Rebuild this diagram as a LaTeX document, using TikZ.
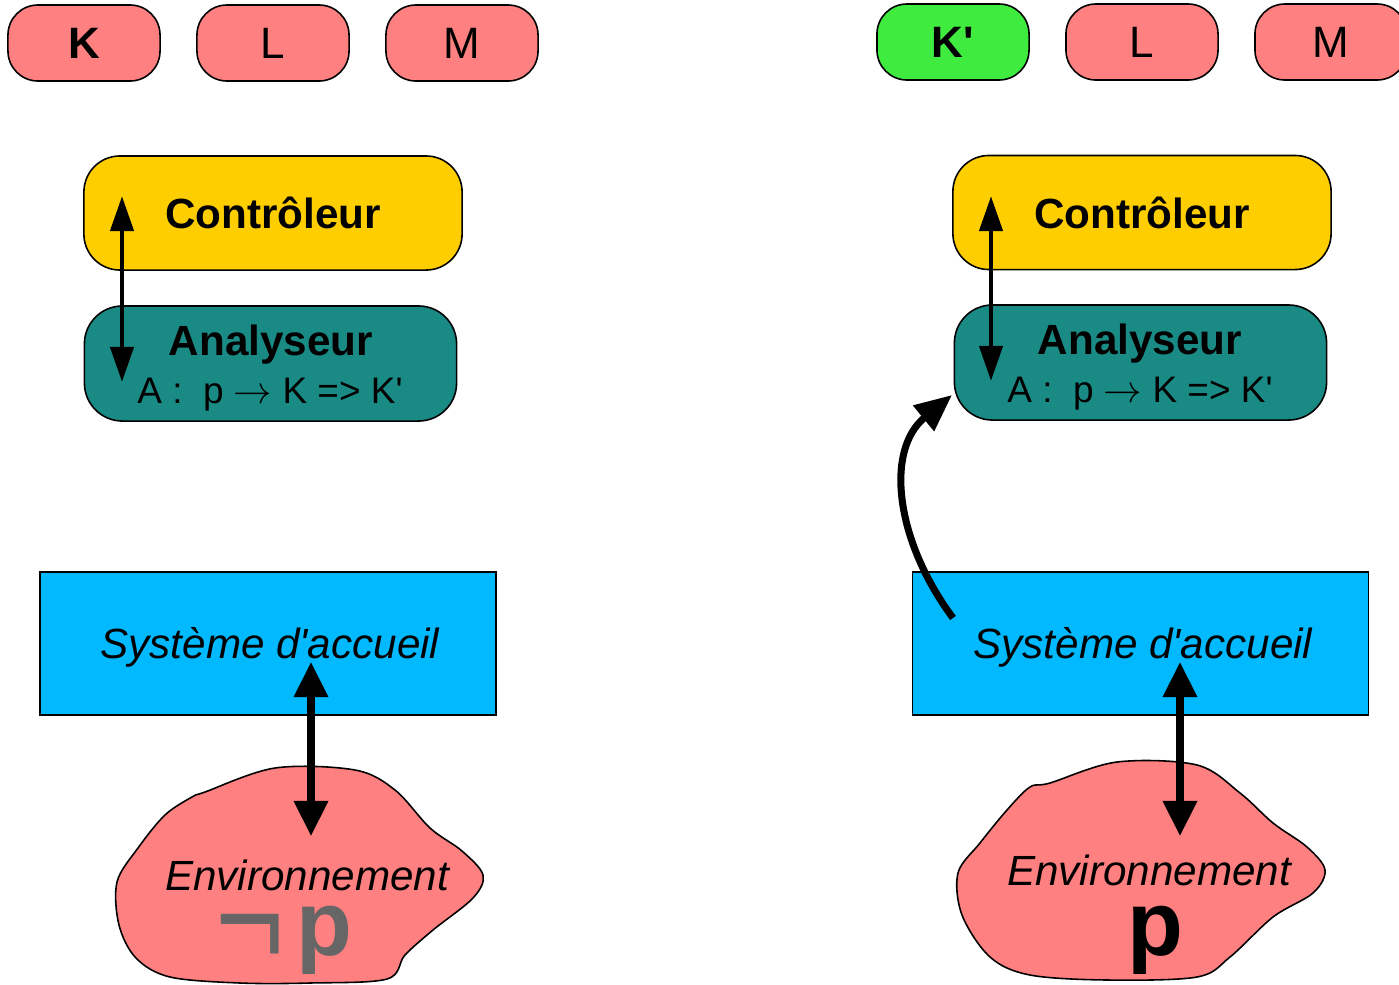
\documentclass[tikz,border=0pt]{standalone}
\usepackage{fontspec}
\setmainfont{Liberation Sans}[Ligatures=TeXOff]
\usetikzlibrary{arrows.meta}

\definecolor{pillred}{RGB}{255,128,128}
\definecolor{pillgreen}{RGB}{64,235,64}
\definecolor{ctrlyellow}{RGB}{255,206,0}
\definecolor{analteal}{RGB}{26,138,133}
\definecolor{hostblue}{RGB}{0,185,255}
\definecolor{neggrey}{RGB}{102,102,102}

\begin{document}
\begin{tikzpicture}[x=0.01cm,y=-0.01cm,
  outline/.style={draw=black,line width=0.45pt},
  pillbox/.style={outline,fill=pillred,minimum width=1.52cm,minimum height=0.76cm,
    rounded corners=0.3cm,inner sep=0pt,font=\fontsize{12.5}{14}\selectfont},
  ctrlbox/.style={outline,fill=ctrlyellow,minimum width=3.78cm,minimum height=1.14cm,
    rounded corners=0.36cm,inner sep=0pt},
  analbox/.style={outline,fill=analteal,minimum width=3.72cm,minimum height=1.15cm,
    rounded corners=0.38cm,inner sep=0pt},
  hostbox/.style={outline,fill=hostblue,minimum width=4.56cm,minimum height=1.43cm,inner sep=0pt},
  cloud/.style={outline,fill=pillred},
  bigtxt/.style={anchor=base,inner sep=0pt,font=\fontsize{12}{14}\selectfont\bfseries},
  rule/.style={anchor=base,inner sep=0pt,font=\fontsize{10.5}{12}\selectfont},
  itxt/.style={anchor=base,inner sep=0pt,font=\fontsize{12}{14}\selectfont\itshape},
  prop/.style={anchor=base,inner sep=0pt,font=\fontsize{26}{30}\selectfont\bfseries},
  thinlink/.style={line width=1.4pt,{Triangle[length=10pt,width=6.5pt]}-{Triangle[length=10pt,width=6.5pt]}},
  thicklink/.style={line width=2pt,{Triangle[length=10pt,width=9.4pt]}-{Triangle[length=10pt,width=9.4pt]}},
  bendlink/.style={line width=2pt,-{Triangle[length=10.5pt,width=9pt]}},
]
\useasboundingbox (0,0) rectangle (1399,984);

% ---------- left state ----------
\node[pillbox] (kL) at (84,43) {\bfseries K};
\node[pillbox] (lL) at (273,43) {L};
\node[pillbox] (mL) at (462,43) {M};

\node[ctrlbox] (ctrlL) at (273,213) {};
\node[bigtxt] (ctrlLt) at (273,228) {Contrôleur};
\node[analbox] (analL) at (270.5,363.5) {};
\node[bigtxt] (analLt) at (271,355) {Analyseur};
\node[rule] (ruleL) at (270,403) {A :\ \ p $\rightarrow$ K => K'};

\node[hostbox] (hostL) at (268,643.5) {};
\node[itxt] (hostLt) at (270,658) {Système d'accueil};

\draw[cloud] plot[smooth cycle,tension=0.55] coordinates {
  (205,792) (275,768) (355,770) (395,790) (430,828) (462,851) (483,875)
  (473,898) (433,930) (405,955) (387,979) (310,983) (240,983) (170,977)
  (136,958) (119,925) (117,882) (138,848) (165,815) (192,797)};
\node[itxt] (envLt) at (307,890) {Environnement};
\node[prop,text=neggrey] (negL) at (250,966) {\mdseries\scalebox{1.3}[1.55]{¬}};
\node[prop,text=neggrey] (propL) at (324,955) {p};

\coordinate (cL1) at (122,196);
\coordinate (cL2) at (122,382);
\draw[thinlink] (cL1) -- (cL2);
\coordinate (hL1) at (311,662);
\coordinate (eL1) at (311,836);
\draw[thicklink] (hL1) -- (eL1);

% ---------- right state ----------
\node[pillbox,fill=pillgreen] (kR) at (953,42) {\bfseries K'};
\node[pillbox] (lR) at (1142,42) {L};
\node[pillbox] (mR) at (1331,42) {M};

\node[ctrlbox] (ctrlR) at (1142,212.5) {};
\node[bigtxt] (ctrlRt) at (1142,228) {Contrôleur};
\node[analbox] (analR) at (1140.5,362.5) {};
\node[bigtxt] (analRt) at (1140,354) {Analyseur};
\node[rule] (ruleR) at (1140,402) {A :\ \ p $\rightarrow$ K => K'};

\node[hostbox] (hostR) at (1140.5,643.5) {};
\node[itxt] (hostRt) at (1143,658) {Système d'accueil};

\draw[cloud] plot[smooth cycle,tension=0.55] coordinates {
  (1030,787) (1050,783) (1117,762) (1197,765) (1240,793) (1273,823)
  (1307,847) (1325,870) (1313,893) (1273,917) (1230,957) (1197,977)
  (1107,980) (1030,975) (990,957) (962,915) (958,873) (980,843) (1007,810)};
\node[itxt] (envRt) at (1149,885) {Environnement};
\node[prop] (propR) at (1155,955) {p};

\coordinate (cR1) at (991,196);
\coordinate (cR2) at (991,381);
\draw[thinlink] (cR1) -- (cR2);
\coordinate (hR1) at (1180,662);
\coordinate (eR1) at (1180,836);
\draw[thicklink] (hR1) -- (eR1);

% perception of p reaching the analyser
\coordinate (sR) at (953,618);
\coordinate (aR) at (952,395);
\draw[bendlink] (sR) .. controls (895,540) and (885,450) .. (aR);
\end{tikzpicture}
\end{document}
